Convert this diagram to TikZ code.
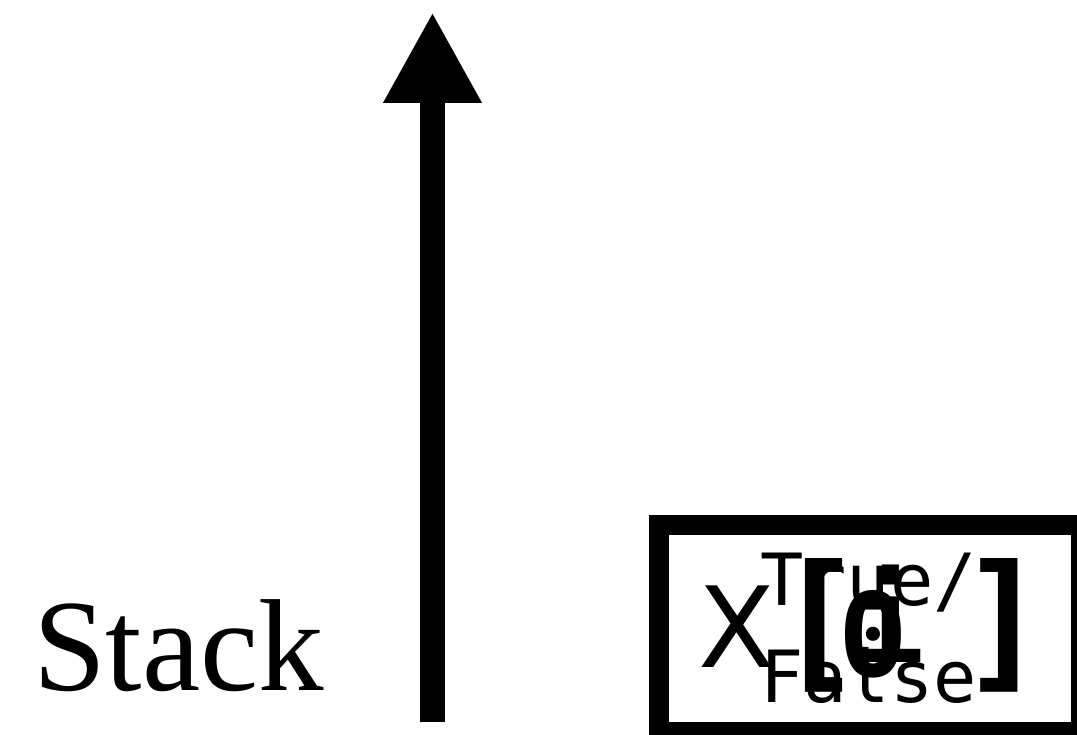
\documentclass[tikz,border=0pt]{standalone}
\usepackage{fontspec}
\usetikzlibrary{arrows.meta}
\setmainfont{Liberation Serif}
\newfontfamily\boxsans{DejaVu Sans}
\newfontfamily\boxmono{DejaVu Sans Mono}
\begin{document}
\begin{tikzpicture}[x=1pt, y=-1pt, inner sep=0pt, outer sep=0pt,
    glyph/.style={anchor=base west}]
    \useasboundingbox (0,0) rectangle (1077,735);
    % stack label and growth arrow
    \node[glyph] (stack) at (33,690) {\fontsize{131}{131}\selectfont Stack};
    \coordinate (bot) at (432.5,722);
    \coordinate (top) at (432.5,12);
    \draw[line width=25pt, -{Triangle[width=92pt,length=91pt]}] (bot) -- (top);
    % cell box, overlapping texts
    \draw[line width=20pt] (658.5,525) rectangle (1080.5,732);
    \node[glyph] (x) at (698,667) {\fontsize{112}{112}\boxsans X};
    \node[glyph] (lb) at (774,672) {\fontsize{150}{150}\boxmono\bfseries [};
    \node[glyph] (rb) at (958,672) {\fontsize{150}{150}\boxmono\bfseries ]};
    \node[glyph] (zero) at (838,676) {\fontsize{116}{116}\boxmono\bfseries 0};
    \node[glyph] (i) at (852,662) {\fontsize{120}{120}\boxmono\bfseries i};
    \node[glyph] (t) at (760,605) {\fontsize{72}{72}\boxmono True/};
    \node[glyph] (f) at (760,702) {\fontsize{72}{72}\boxmono False};
\end{tikzpicture}
\end{document}
